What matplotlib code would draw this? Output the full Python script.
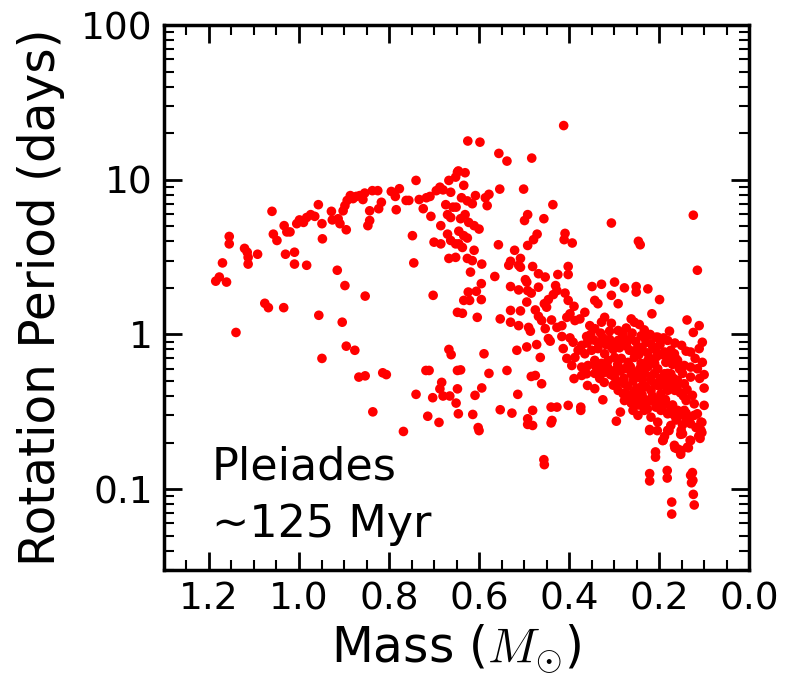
import numpy as np
import matplotlib
matplotlib.use("Agg")
import matplotlib.pyplot as plt
from matplotlib.ticker import MultipleLocator, LogLocator, NullFormatter

plt.rcParams['mathtext.fontset'] = 'cm'

# (mass in Msun, rotation period in days)
slow_sequence = [
    (1.170, 2.9), (1.155, 4.3), (1.155, 3.85), (1.121, 3.6), (1.115, 3.4), (1.113, 3.15),
    (1.113, 2.85), (1.092, 3.3), (1.060, 6.25), (1.057, 4.45), (1.049, 4.05), (1.033, 5.05),
    (1.027, 4.6), (1.020, 4.6), (1.030, 3.3), (1.010, 3.4), (1.010, 2.85), (0.983, 2.8),
    (1.005, 5.2), (0.999, 5.5), (0.990, 5.3), (0.983, 5.7), (0.974, 5.95), (0.965, 5.8),
    (0.957, 6.9), (0.949, 5.2), (0.948, 4.15), (0.928, 6.25), (0.926, 5.5), (0.913, 5.6),
    (0.909, 5.2), (0.902, 6.3), (0.898, 6.8), (0.895, 4.75), (0.893, 7.35), (0.886, 7.9),
    (0.880, 7.55), (0.873, 7.8), (0.865, 7.9), (0.858, 7.45), (0.854, 8.2), (0.847, 5.05),
    (0.843, 6.3), (0.843, 5.45), (0.837, 8.5), (0.825, 8.5), (0.823, 6.5), (0.817, 7.15),
    (0.795, 8.4), (0.786, 7.8), (0.784, 6.4), (0.777, 8.75), (0.762, 7.35), (0.756, 7.35),
    (0.748, 4.35), (0.745, 2.9), (0.740, 9.9), (0.733, 7.45), (0.724, 6.5), (0.717, 7.65),
    (0.709, 7.8), (0.707, 5.8), (0.695, 8.5), (0.687, 8.95), (0.680, 8.6), (0.674, 6.9),
    (0.670, 5.95), (0.667, 9.9), (0.663, 8.3), (0.663, 5.7), (0.658, 6.65), (0.652, 10.4),
    (0.648, 11.2), (0.700, 3.95), (0.685, 5.05), (0.685, 3.85), (0.670, 4.45), (0.663, 4.05),
    (0.667, 3.1), (0.652, 3.85), (0.652, 3.15), (0.915, 2.6),
]

upper_right = [
    (0.412, 22.4), (0.625, 17.8), (0.598, 17.5), (0.556, 14.8), (0.538, 13.2), (0.483, 13.8),
    (0.646, 11.4), (0.631, 11.1), (0.634, 9.2), (0.608, 7.9), (0.639, 7.65), (0.626, 7.3),
    (0.615, 7.0), (0.586, 7.65), (0.578, 8.05), (0.582, 6.8), (0.554, 8.7), (0.501, 8.7),
    (0.651, 6.65), (0.641, 5.6), (0.631, 5.95), (0.623, 5.3), (0.611, 5.05), (0.600, 4.8),
    (0.645, 4.65), (0.634, 4.35), (0.626, 4.2), (0.645, 3.85), (0.637, 3.65), (0.611, 3.5),
    (0.626, 3.1), (0.615, 3.0), (0.594, 2.85), (0.557, 3.8), (0.521, 3.5), (0.508, 3.1),
    (0.530, 2.97), (0.534, 2.8), (0.512, 2.8), (0.492, 3.76), (0.479, 4.1), (0.471, 4.45),
    (0.499, 5.45), (0.492, 5.95), (0.456, 5.6), (0.436, 6.9), (0.481, 2.75), (0.409, 4.5),
    (0.411, 4.1), (0.393, 3.9), (0.402, 2.75), (0.306, 5.25), (0.246, 4.0), (0.242, 3.8),
    (0.124, 5.9), (0.115, 2.6),
]

fast_branch = [
    (1.185, 2.21), (1.177, 2.35), (1.161, 2.18), (0.898, 2.07), (0.853, 1.77), (1.076, 1.59),
    (1.068, 1.49), (1.034, 1.49), (1.140, 1.03), (0.956, 1.33), (0.904, 1.2), (0.895, 0.84),
    (0.876, 0.79), (0.949, 0.70), (0.867, 0.53), (0.853, 0.54), (0.814, 0.565), (0.806, 0.55),
    (0.836, 0.316), (0.768, 0.236), (0.702, 1.79), (0.648, 1.39), (0.667, 0.80), (0.662, 0.74),
    (0.648, 0.585), (0.718, 0.585), (0.711, 0.585), (0.683, 0.49), (0.687, 0.445), (0.680, 0.40),
    (0.665, 0.40), (0.740, 0.41), (0.703, 0.39), (0.714, 0.296), (0.689, 0.27), (0.651, 0.36),
    (0.648, 0.445), (0.646, 0.307),
]

low_mass_upper = [
    (0.508, 2.72), (0.468, 2.47), (0.453, 2.35), (0.425, 2.44), (0.402, 2.44), (0.619, 2.53),
    (0.565, 2.37), (0.497, 2.26), (0.494, 2.18), (0.595, 2.13), (0.624, 1.88), (0.606, 1.90),
    (0.634, 1.66), (0.621, 1.66), (0.595, 1.68), (0.530, 2.04), (0.512, 1.94), (0.492, 1.92),
    (0.484, 1.85), (0.468, 2.02), (0.446, 1.68), (0.435, 1.81), (0.430, 2.07), (0.427, 1.92),
    (0.409, 1.85), (0.402, 1.66), (0.389, 1.52), (0.349, 2.04), (0.328, 2.11), (0.299, 2.18),
    (0.277, 2.00), (0.251, 2.04), (0.251, 1.88), (0.225, 1.97), (0.306, 1.79), (0.291, 1.58),
    (0.343, 1.66), (0.336, 1.58), (0.199, 1.68), (0.637, 1.37), (0.604, 1.29), (0.553, 1.26),
    (0.530, 1.43), (0.508, 1.42), (0.494, 1.62), (0.475, 1.44), (0.468, 1.31), (0.455, 1.58),
    (0.450, 1.50), (0.461, 1.23), (0.439, 1.24), (0.427, 1.11), (0.416, 1.14), (0.405, 1.29),
    (0.398, 1.36), (0.387, 1.23), (0.376, 1.26), (0.365, 1.39), (0.354, 1.14), (0.343, 1.09),
    (0.361, 0.97), (0.328, 1.20), (0.321, 1.29), (0.306, 1.18), (0.291, 1.06), (0.273, 1.10),
    (0.262, 1.26), (0.255, 1.20), (0.244, 1.16), (0.233, 1.07), (0.216, 1.36), (0.207, 0.96),
    (0.177, 1.05), (0.138, 1.24), (0.124, 1.03), (0.111, 1.14), (0.104, 0.89), (0.111, 0.81),
    (0.130, 0.77), (0.104, 0.66), (0.530, 1.20), (0.512, 1.14), (0.490, 1.11), (0.486, 1.05),
    (0.453, 1.09), (0.446, 0.94), (0.442, 0.905), (0.494, 0.83), (0.472, 0.86), (0.516, 0.79),
    (0.589, 0.75), (0.641, 0.59), (0.578, 0.56), (0.538, 0.585), (0.464, 0.71), (0.416, 0.97),
    (0.398, 0.95), (0.391, 0.89), (0.413, 0.81), (0.405, 0.70), (0.394, 0.63), (0.380, 0.79),
    (0.372, 0.85), (0.387, 0.71), (0.365, 0.75), (0.350, 0.79), (0.336, 0.81), (0.321, 0.75),
    (0.306, 0.83), (0.291, 0.915), (0.277, 0.87), (0.266, 0.79), (0.247, 0.83), (0.229, 0.89),
    (0.218, 0.87), (0.207, 0.79), (0.188, 0.77), (0.174, 0.79), (0.166, 0.75), (0.181, 0.915),
    (0.203, 0.96), (0.372, 0.615), (0.358, 0.63), (0.343, 0.68), (0.328, 0.65), (0.313, 0.68),
    (0.299, 0.71), (0.284, 0.70), (0.269, 0.66), (0.255, 0.71), (0.240, 0.65), (0.225, 0.68),
    (0.210, 0.65), (0.181, 0.68), (0.159, 0.68), (0.144, 0.63), (0.130, 0.615), (0.343, 0.56),
    (0.321, 0.57), (0.299, 0.585), (0.277, 0.60), (0.255, 0.57), (0.233, 0.585), (0.210, 0.56),
    (0.181, 0.56),
]

dense_core = [
    (0.345, 0.92), (0.335, 0.88), (0.325, 0.95), (0.318, 0.86), (0.310, 0.93), (0.302, 0.80),
    (0.296, 0.88), (0.288, 0.82), (0.282, 0.95), (0.272, 0.84), (0.265, 0.93), (0.258, 0.78),
    (0.252, 0.90), (0.245, 0.74), (0.238, 0.82), (0.232, 0.95), (0.226, 0.76), (0.220, 0.70),
    (0.214, 0.83), (0.205, 0.72), (0.198, 0.86), (0.192, 0.74), (0.185, 0.66), (0.178, 0.72),
    (0.170, 0.64), (0.163, 0.70), (0.155, 0.60), (0.148, 0.56), (0.340, 0.62), (0.332, 0.52),
    (0.322, 0.49), (0.315, 0.62), (0.308, 0.55), (0.302, 0.47), (0.292, 0.64), (0.286, 0.58),
    (0.278, 0.52), (0.270, 0.46), (0.264, 0.62), (0.258, 0.50), (0.250, 0.45), (0.243, 0.60),
    (0.237, 0.51), (0.230, 0.46), (0.224, 0.62), (0.217, 0.54), (0.210, 0.48), (0.203, 0.60),
    (0.197, 0.52), (0.190, 0.47), (0.183, 0.50), (0.176, 0.45), (0.168, 0.52), (0.160, 0.46),
    (0.153, 0.42), (0.146, 0.40), (0.138, 0.44), (0.270, 0.40), (0.262, 0.36), (0.255, 0.39),
    (0.245, 0.35), (0.238, 0.41), (0.232, 0.38), (0.226, 0.33), (0.215, 0.40), (0.208, 0.36),
    (0.200, 0.38), (0.193, 0.34), (0.186, 0.38), (0.178, 0.31), (0.170, 0.35), (0.162, 0.28),
    (0.155, 0.30), (0.148, 0.26), (0.140, 0.31), (0.132, 0.29), (0.118, 0.25), (0.112, 0.22),
    (0.105, 0.27), (0.360, 0.88), (0.352, 1.00), (0.330, 1.02), (0.310, 1.05), (0.280, 1.00),
    (0.260, 1.02), (0.240, 0.98), (0.220, 1.00), (0.190, 0.95), (0.165, 0.88), (0.150, 0.85),
    (0.140, 0.78), (0.120, 0.70), (0.115, 0.60), (0.110, 0.52), (0.100, 0.45), (0.100, 0.55),
]

low_mass_lower = [
    (0.614, 0.304), (0.602, 0.25), (0.609, 0.404), (0.594, 0.451), (0.553, 0.326), (0.527, 0.31),
    (0.514, 0.41), (0.484, 0.535), (0.475, 0.543), (0.461, 0.48), (0.481, 0.323), (0.492, 0.285),
    (0.492, 0.262), (0.481, 0.258), (0.440, 0.339), (0.427, 0.339), (0.438, 0.278), (0.440, 0.268),
    (0.402, 0.348), (0.374, 0.339), (0.374, 0.323), (0.456, 0.155), (0.389, 0.518), (0.359, 0.468),
    (0.343, 0.446), (0.325, 0.378), (0.372, 0.543), (0.361, 0.557), (0.332, 0.57), (0.317, 0.585),
    (0.299, 0.53), (0.288, 0.492), (0.291, 0.435), (0.280, 0.414), (0.277, 0.374), (0.286, 0.315),
    (0.295, 0.275), (0.266, 0.404), (0.255, 0.424), (0.247, 0.384), (0.258, 0.323), (0.247, 0.300),
    (0.233, 0.323), (0.229, 0.356), (0.262, 0.557), (0.247, 0.53), (0.233, 0.557), (0.218, 0.505),
    (0.277, 0.48), (0.240, 0.457), (0.218, 0.435), (0.203, 0.468), (0.196, 0.414), (0.218, 0.374),
    (0.207, 0.339), (0.196, 0.323), (0.185, 0.356), (0.174, 0.339), (0.181, 0.307), (0.166, 0.300),
    (0.159, 0.323), (0.218, 0.292), (0.203, 0.271), (0.221, 0.243), (0.188, 0.219), (0.192, 0.206),
    (0.174, 0.258), (0.181, 0.240), (0.166, 0.192), (0.159, 0.182), (0.151, 0.178), (0.137, 0.187),
    (0.130, 0.206), (0.151, 0.240), (0.148, 0.228), (0.140, 0.278), (0.130, 0.265), (0.122, 0.300),
    (0.107, 0.271), (0.107, 0.240), (0.100, 0.348), (0.122, 0.356), (0.115, 0.307), (0.144, 0.323),
    (0.140, 0.374), (0.126, 0.404), (0.144, 0.48), (0.130, 0.53), (0.165, 0.435), (0.174, 0.557),
    (0.170, 0.646), (0.188, 0.557), (0.174, 0.492), (0.159, 0.505), (0.181, 0.435), (0.208, 0.174),
    (0.221, 0.126), (0.182, 0.132), (0.130, 0.123), (0.126, 0.128), (0.124, 0.0925), (0.172, 0.0825),
    (0.600, 0.239), (0.455, 0.144), (0.221, 0.113), (0.182, 0.118), (0.128, 0.110), (0.125, 0.114),
    (0.122, 0.079), (0.172, 0.069), (0.208, 0.161), (0.191, 0.207), (0.165, 0.185), (0.152, 0.168),
    (0.135, 0.185), (0.131, 0.207), (0.109, 0.213), (0.105, 0.232), (0.221, 0.239), (0.204, 0.239),
    (0.178, 0.239), (0.152, 0.226),
]

stars = slow_sequence + upper_right + fast_branch + low_mass_upper + dense_core + low_mass_lower
mass = np.array([s[0] for s in stars])
period = np.array([s[1] for s in stars])

major_x = [1.2, 1.0, 0.8, 0.6, 0.4, 0.2, 0.0]
major_y = [0.1, 1, 10, 100]
major_y_labels = ['0.1', '1', '10', '100']

fig = plt.figure(figsize=(7.94, 6.77), dpi=100)
ax = fig.add_axes([0.2065, 0.158, 0.737, 0.805])
ax.scatter(mass, period, s=48, c='red', edgecolors='none', zorder=3)

ax.set_yscale('log')
ax.set_xlim(1.3, 0.0)
ax.set_ylim(0.03, 100)

ax.set_xticks(major_x)
ax.set_xticklabels([f'{v:.1f}' for v in major_x])
ax.xaxis.set_minor_locator(MultipleLocator(0.05))
ax.set_yticks(major_y)
ax.set_yticklabels(major_y_labels)
ax.yaxis.set_minor_locator(LogLocator(base=10, subs=np.arange(2, 10)))
ax.yaxis.set_minor_formatter(NullFormatter())

ax.tick_params(which='both', direction='in', top=True, right=True)
ax.tick_params(which='major', length=13, width=2, labelsize=27, pad=8)
ax.tick_params(which='minor', length=7, width=1.5)
for sp in ax.spines.values():
    sp.set_linewidth(2.5)

ax.set_xlabel(r'Mass ($M_{\odot}$)', fontsize=35, labelpad=4)
ax.set_ylabel('Rotation Period (days)', fontsize=35, labelpad=12)

ax.text(0.082, 0.045, 'Pleiades\n~125 Myr', transform=ax.transAxes,
        fontsize=32, ha='left', va='bottom', linespacing=1.4)

fig.savefig('out.png', dpi=100)
